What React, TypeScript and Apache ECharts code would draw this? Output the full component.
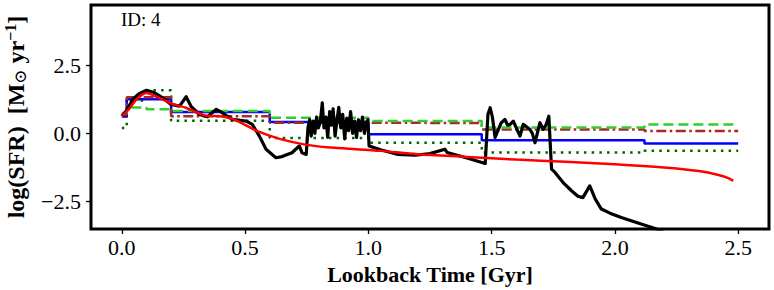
import React, { useEffect, useRef } from "react";
import * as echarts from "echarts";

// ---- data ----
const xTicks = [0, 0.5, 1.0, 1.5, 2.0, 2.5];
const yTicks = [-2.5, 0, 2.5];

// bin edges of the binned (step) SFH reconstructions, Gyr
const binEdges = [0, 0.02, 0.1, 0.2, 0.6, 1.0, 1.46, 2.12, 2.5];
const blueSteps = [0.62, 1.25, 1.25, 0.78, 0.42, -0.03, -0.25, -0.37];
const brownSteps = [0.69, 1.32, 1.32, 0.63, 0.39, 0.38, 0.14, 0.09];
const limeSteps = [0.75, 0.95, 0.88, 0.82, 0.57, 0.45, 0.22, 0.33];
const darkGreenSteps = [0.2, 1.2, 1.58, 0.46, -0.17, -0.34, -0.7, -0.64];

// true SFH (black)
const trueSfh: [number, number][] = [
  [0, 0.63], [0.02, 0.85], [0.044, 1.24], [0.07, 1.45], [0.1, 1.58], [0.13, 1.5],
  [0.166, 1.3], [0.2, 1.06], [0.234, 1.0], [0.261, 1.34], [0.28, 1.0], [0.315, 0.69],
  [0.347, 0.61], [0.383, 0.88], [0.408, 0.75], [0.448, 0.51], [0.504, 0.45], [0.529, 0.33],
  [0.558, -0.1], [0.585, -0.58], [0.625, -0.89], [0.65, -0.85], [0.69, -0.71], [0.72, -0.46],
  [0.731, -0.71], [0.748, -0.77],
  [0.755, 0.2], [0.762, 0.5], [0.768, -0.1], [0.776, 0.45], [0.783, 0.0], [0.79, 0.6],
  [0.797, 0.2], [0.805, 0.4], [0.813, 1.12], [0.82, 0.2], [0.828, 0.6], [0.835, -0.15],
  [0.843, 0.8], [0.85, 0.3], [0.857, 0.9], [0.865, -0.1], [0.873, 0.5], [0.88, 0.95],
  [0.888, 0.2], [0.896, 0.7], [0.904, -0.2], [0.912, 0.55], [0.92, 0.1], [0.928, 0.8],
  [0.936, 0.0], [0.944, 0.45], [0.952, -0.15], [0.96, 0.5], [0.968, 0.1], [0.976, 0.6],
  [0.984, 0.0], [0.992, 0.4], [0.998, 0.5],
  [1.003, -0.46], [1.05, -0.6], [1.12, -0.77], [1.19, -0.8], [1.25, -0.74], [1.31, -0.58],
  [1.32, -0.7], [1.4, -0.9], [1.474, -1.1], [1.485, 0.7], [1.494, 0.94], [1.503, 0.6],
  [1.514, -0.15], [1.53, 0.2], [1.539, 0.39], [1.554, 0.51], [1.565, 0.3], [1.575, 0.33],
  [1.588, 0.45], [1.6, 0.2], [1.615, -0.1], [1.628, 0.33], [1.64, 0.25], [1.655, 0.15],
  [1.665, 0.0], [1.676, -0.34], [1.696, 0.39], [1.709, 0.15], [1.72, 0.3], [1.732, 0.63],
  [1.743, -1.31], [1.757, -1.43], [1.79, -1.8], [1.824, -2.1], [1.85, -2.3], [1.87, -2.35],
  [1.898, -1.92], [1.92, -2.4], [1.945, -2.77], [1.98, -2.92], [2.026, -3.08], [2.1, -3.3],
  [2.16, -3.47], [2.22, -3.7],
];

// smooth reconstruction (red)
const redSfh: [number, number][] = [
  [0, 0.63], [0.03, 0.9], [0.06, 1.25], [0.1, 1.48], [0.15, 1.3], [0.21, 1.06],
  [0.26, 0.94], [0.3, 0.78], [0.34, 0.65], [0.41, 0.62], [0.45, 0.52], [0.49, 0.36],
  [0.55, 0.08], [0.64, -0.2], [0.75, -0.42], [0.85, -0.52], [0.95, -0.58], [1.05, -0.64],
  [1.2, -0.76], [1.4, -0.86], [1.6, -0.96], [1.8, -1.04], [2.0, -1.13], [2.2, -1.25],
  [2.34, -1.38], [2.42, -1.52], [2.46, -1.64], [2.48, -1.74],
];

const idText = "ID: 4";

function stepPoints(edges: number[], vals: number[]): [number, number][] {
  const pts: [number, number][] = [];
  vals.forEach((v, i) => {
    pts.push([edges[i], v]);
    pts.push([edges[i + 1], v]);
  });
  return pts;
}

const FONT = "'Liberation Serif', 'DejaVu Serif', serif";

const fmt = (v: number) => {
  const s = Math.abs(v).toFixed(1);
  return v < 0 ? "\u2212" + s : s;
};

export default function App() {
  const ref = useRef<HTMLDivElement>(null);
  useEffect(() => {
    if (!ref.current) return;
    const chart = echarts.init(ref.current, undefined, { renderer: "svg" });
    const stepSeries = (name: string, vals: number[], color: string, type: any, width: number, z: number) => ({
      name,
      type: "line",
      data: stepPoints(binEdges, vals),
      showSymbol: false,
      symbol: "none",
      lineStyle: { color, width, type },
      z,
    });
    chart.setOption({
      animation: false,
      grid: {
        left: 91,
        right: 5,
        top: 5,
        bottom: 61,
        show: true,
        borderColor: "#000",
        borderWidth: 3,
        backgroundColor: "transparent",
        outerBoundsMode: "none",
        containLabel: false,
      },
      xAxis: {
        type: "value",
        min: -0.125,
        max: 2.625,
        axisLine: { show: false, onZero: false },
        splitLine: { show: false },
        axisTick: { show: true, length: 5, lineStyle: { color: "#000", width: 1.3 }, customValues: xTicks },
        axisLabel: {
          customValues: xTicks,
          formatter: (v: number) => fmt(v),
          fontFamily: FONT,
          fontSize: 22,
          color: "#000",
          margin: 7,
        },
        name: "Lookback Time [Gyr]",
        nameLocation: "middle",
        nameGap: 34,
        nameTextStyle: { fontFamily: FONT, fontSize: 22, fontWeight: "bold", color: "#000" },
      },
      yAxis: {
        type: "value",
        min: -3.5,
        max: 4.7,
        axisLine: { show: false, onZero: false },
        splitLine: { show: false },
        axisTick: { show: true, length: 5, lineStyle: { color: "#000", width: 1.3 }, customValues: yTicks },
        axisLabel: {
          customValues: yTicks,
          formatter: (v: number) => fmt(v),
          fontFamily: FONT,
          fontSize: 22,
          color: "#000",
          margin: 10,
        },
        name: "log(SFR)  [M{sub|\u2299} yr{sup|\u22121}]",
        nameLocation: "middle",
        nameGap: 62,
        nameRotate: 90,
        nameTextStyle: {
          fontFamily: FONT,
          fontSize: 24,
          fontWeight: "bold",
          color: "#000",
          rich: {
            sub: { fontFamily: FONT, fontSize: 17, fontWeight: "normal", color: "#000", verticalAlign: "bottom", padding: [9, 0, 0, 0] },
            sup: { fontFamily: FONT, fontSize: 16, fontWeight: "bold", color: "#000", verticalAlign: "top", padding: [0, 0, 11, 0] },
          },
        },
      },
      graphic: [
        {
          type: "text",
          left: 121,
          top: 10,
          style: { text: idText, fontFamily: FONT, fontSize: 19, fill: "#000" },
        },
      ],
      series: [
        stepSeries("dotted", darkGreenSteps, "#006400", [2.5, 5.2], 2.5, 2),
        stepSeries("blue", blueSteps, "#0000ff", "solid", 2.5, 2),
        stepSeries("dashdot", brownSteps, "#a52a2a", [10, 3.5, 2.5, 3.5], 2.5, 2),
        stepSeries("dashed", limeSteps, "#32cd32", [10, 5], 2.5, 2),
        {
          name: "true",
          type: "line",
          data: trueSfh,
          showSymbol: false,
          symbol: "none",
          lineStyle: { color: "#000", width: 3.2, join: "round" },
          z: 3,
        },
        {
          name: "red",
          type: "line",
          data: redSfh,
          smooth: 0.3,
          showSymbol: false,
          symbol: "none",
          lineStyle: { color: "#ff0000", width: 2.5 },
          z: 4,
        },
      ],
    });
    return () => chart.dispose();
  }, []);
  return <div ref={ref} style={{ width: 774, height: 290, position: "absolute", left: 0, top: 0 }} />;
}
